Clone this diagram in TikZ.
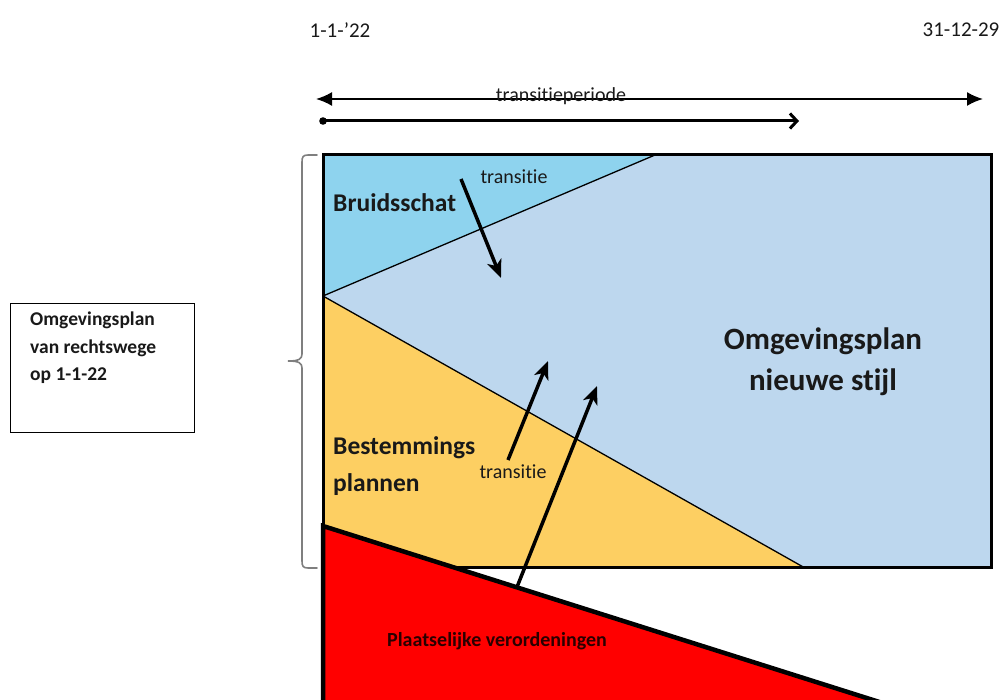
\documentclass[tikz,border=0pt]{standalone}
\usepackage{fontspec}
\setmainfont{Carlito}[Ligatures=NoCommon]
\usetikzlibrary{arrows.meta}
\definecolor{nieuw}{HTML}{BDD7EE}
\definecolor{bruid}{HTML}{8ED3EE}
\definecolor{bestem}{HTML}{FDCF62}
\definecolor{bracegray}{HTML}{7F7F7F}
\definecolor{txtred}{HTML}{2A0000}
\begin{document}
\begin{tikzpicture}[x=1pt,y=-1pt,line join=miter,
  txt/.style={inner sep=0pt,text=black!90},
  datelbl/.style={txt,font=\fontsize{21}{24}\selectfont},
  small/.style={txt,font=\fontsize{20}{24}\selectfont},
  area/.style={txt,font=\bfseries\fontsize{25.5}{37}\selectfont,align=left,anchor=west},
  big/.style={txt,font=\bfseries\fontsize{31}{41}\selectfont,align=center},
  boxtxt/.style={txt,font=\bfseries\fontsize{19.5}{27.5}\selectfont,align=left,anchor=north west},
  thinedge/.style={draw=black,line width=1.3},
  transarrow/.style={line width=3.5,-{Stealth[length=18,width=15,inset=5]}},
]
\useasboundingbox (0,0) rectangle (1005,700);

% dates
\node[datelbl] (d1) at (340,30) {1-1-’22};
\node[datelbl] (d2) at (961,30) {31-12-29};

% top arrows
\coordinate (pl) at (316,99);
\coordinate (pr) at (983,99);
\draw[line width=1.8,{Latex[length=16,width=14]}-{Latex[length=16,width=14]}] (pl) -- (pr);
\node[small] (tp) at (561,96) {transitieperiode};
\coordinate (sl) at (323,121);
\coordinate (sr) at (799,121);
\fill (sl) circle (3.8);
\draw[line width=3,-{Straight Barb[length=7,width=15,line width=3]}] (sl) -- (sr);

% main areas
\begin{scope}
\clip (0,0) rectangle (1005,700);
\fill[nieuw] (323,155) rectangle (991,568);
\filldraw[fill=bruid,thinedge] (323,155) -- (655,155) -- (323,296) -- cycle;
\filldraw[fill=bestem,thinedge] (323,296) -- (805,568) -- (323,568) -- cycle;
\draw[line width=3] (323,155) rectangle (991,568);
\fill[red] (323,526) -- (892,706) -- (323,706) -- cycle;
\draw[line width=4.5] (323,706) -- (323,526) -- (892,706);
\end{scope}

% area labels
\node[area] (bs) at (333,203) {Bruidsschat};
\node[area] (bp) at (333,466) {Bestemmings\\plannen};
\node[big] (nw) at (823,362) {Omgevingsplan\\nieuwe stijl};
\node[txt,font=\bfseries\fontsize{20}{24}\selectfont,text=txtred] (pv) at (497,641) {Plaatselijke verordeningen};

% transition labels
\node[small] (t1) at (514,177) {transitie};
\node[small] (t2) at (513,472) {transitie};

% transition arrows
\coordinate (a1s) at (461,179);
\coordinate (a1e) at (501,278);
\coordinate (a2s) at (508,460);
\coordinate (a2e) at (548,361);
\coordinate (a3s) at (517,587);
\coordinate (a3e) at (597,386);
\draw[transarrow] (a1s) -- (a1e);
\draw[transarrow] (a2s) -- (a2e);
\draw[transarrow] (a3s) -- (a3e);

% brace
\draw[bracegray,line width=1.6,line cap=round]
  (317,155) -- (308,155) .. controls (303,155) and (302,157) .. (302,162)
  -- (302,354) .. controls (302,359) and (299,361) .. (288,361)
  .. controls (299,361) and (302,363) .. (302,368)
  -- (302,561) .. controls (302,566) and (303,568) .. (308,568) -- (317,568);

% left box
\node[draw=black,line width=1.2,minimum width=184,minimum height=129,anchor=north west,inner sep=0pt] (box) at (10,303) {};
\node[boxtxt] (bt) at (30,312) {Omgevingsplan\\van rechtswege\\op 1-1-22};
\end{tikzpicture}
\end{document}
